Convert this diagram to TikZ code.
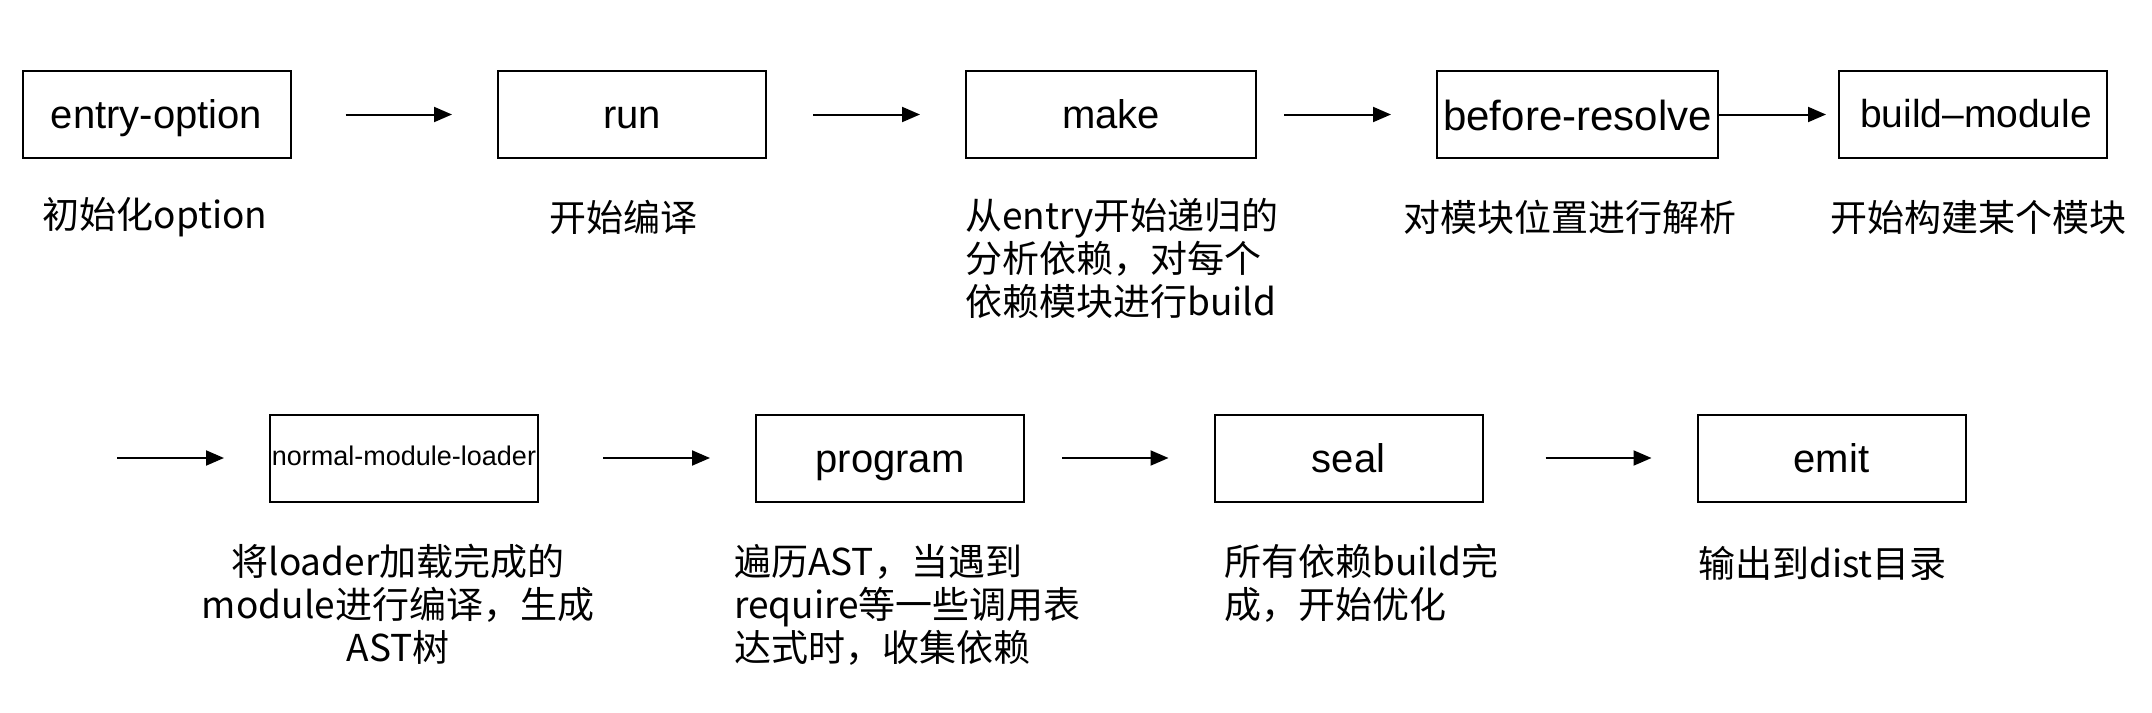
\documentclass[tikz,border=0pt]{standalone}
\usepackage{fontspec}
\setmainfont{Liberation Sans}
\newfontfamily\cjk{Noto Sans CJK SC}
\usetikzlibrary{arrows.meta}

\begin{document}
\begin{tikzpicture}[x=1pt, y=1pt, > = {Triangle[length=18pt,width=15pt]},
  stage/.style={draw, line width=2pt, minimum width=268pt, minimum height=87pt,
    inner sep=0pt, text height=36pt, text depth=8pt, font=\fontsize{40}{48}\selectfont},
  flow/.style={->, line width=2pt, shorten >=45pt},
  note/.style={inner sep=0pt, font=\cjk\fontsize{37}{43}\selectfont}]
\useasboundingbox (0,0) rectangle (2152,-712);

% first row
\node[stage] (entry) at (156.5,-114.5) {entry-option};
\node[stage] (run) at (632,-114.5) {run};
\node[stage, minimum width=290pt] (make) at (1111,-114.5) {make};
\node[stage, minimum width=281pt, text height=40pt, text depth=8pt,
  font=\fontsize{42}{50}\selectfont] (before) at (1577.5,-114.5) {before-resolve};
\node[stage, text height=34pt, text depth=8pt,
  font=\fontsize{39}{46}\selectfont] (build) at (1973,-114.5) {\hspace{6pt}build–module};

\draw[flow, shorten <=54pt] (entry) -- (run);
\draw[flow, shorten <=46pt] (run) -- (make);
\draw[flow, shorten <=27pt] (make) -- (before);
\draw[flow, shorten >=12pt] (before) -- (build);

\node[note] (entrynote) at (155,-217) {初始化option};
\node[note] (runnote) at (623,-217) {开始编译};
\node[note, anchor=north west, align=left] (makenote) at (965,-198)
  {从entry开始递归的\\分析依赖，对每个\\依赖模块进行build};
\node[note] (beforenote) at (1570,-217) {对模块位置进行解析};
\node[note] (buildnote) at (1978,-217) {开始构建某个模块};

% second row
\node[stage, text height=19.5pt, text depth=5.5pt,
  font=\fontsize{27}{32}\selectfont] (loader) at (404,-458) {normal-module-loader};
\node[stage] (program) at (890,-458) {program};
\node[stage] (seal) at (1348.5,-458) {seal};
\node[stage] (emit) at (1831.5,-458) {emit};

\coordinate (wrap) at (117,-458);
\draw[flow] (wrap) -- (loader);
\draw[flow, shorten <=64pt] (loader) -- (program);
\draw[flow, shorten <=37pt] (program) -- (seal);
\draw[flow, shorten <=62pt] (seal) -- (emit);

\node[note, anchor=north, align=center] (loadernote) at (398,-544)
  {将loader加载完成的\\module进行编译，生成\\AST树};
\node[note, anchor=north west, align=left] (programnote) at (734,-544)
  {遍历AST，当遇到\\require等一些调用表\\达式时，收集依赖};
\node[note, anchor=north west, align=left] (sealnote) at (1224,-544)
  {所有依赖build完\\成，开始优化};
\node[note, anchor=west] (emitnote) at (1698,-563) {输出到dist目录};
\end{tikzpicture}
\end{document}
